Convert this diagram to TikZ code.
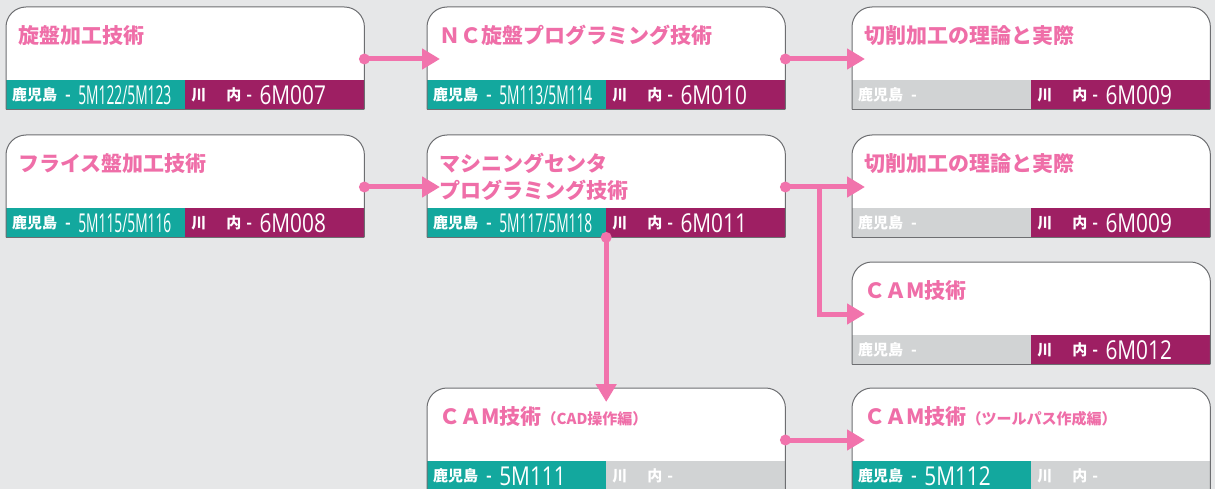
\documentclass[tikz,border=0pt]{standalone}
\usepackage{fontspec}
\setmainfont{Noto Sans CJK JP}
\newfontfamily\codefont{Open Sans}
\usetikzlibrary{arrows.meta}
\definecolor{bggray}{HTML}{E6E7E8}
\definecolor{edgegray}{HTML}{6D6E71}
\definecolor{titlepink}{HTML}{EF6EA8}
\definecolor{linkpink}{HTML}{F173AC}
\definecolor{kteal}{HTML}{13A89E}
\definecolor{smagenta}{HTML}{9E1F63}
\definecolor{nogray}{HTML}{D1D3D4}
\tikzset{
  coursenode/.style={draw=none, inner sep=0pt, minimum width=358pt, minimum height=102pt, anchor=north west},
  boxedge/.style={draw=edgegray, line width=1pt},
  titletext/.style={anchor=north west, inner sep=0pt, text=titlepink, align=left, font=\bfseries\fontsize{21}{27}\selectfont},
  foottext/.style={anchor=base west, inner sep=0pt, text=white, font=\bfseries\fontsize{15}{15}\selectfont},
  codetext/.style={anchor=base west, inner sep=0pt, text=white, font=\codefont\fontsize{26}{26}\selectfont},
  link/.style={draw=linkpink, line width=5pt, -{Triangle[length=18pt,width=20pt]}},
}
\newcommand{\code}[2]{\scalebox{#1}[1]{#2}}
\newcommand{\subttl}[1]{{\fontsize{15}{15}\selectfont #1}}
% name, x, y, title, left colour, left code, right colour, right code
\newcommand{\coursebox}[8]{
  \node[coursenode] (#1) at (#2,#3) {};
  \fill[white,rounded corners=20pt] (#1.south west) rectangle (#1.north east);
  \fill[#5] ([yshift=29pt]#1.south west) rectangle (#1.south);
  \fill[#7] ([yshift=29pt]#1.south) rectangle (#1.south east);
  \draw[boxedge,rounded corners=20pt] (#1.south west) -- (#1.north west) -- (#1.north east) -- (#1.south east);
  \draw[boxedge] (#1.south east) -- (#1.south west);
  \node[titletext] (#1-title) at ([xshift=12pt,yshift=-18pt]#1.north west) {#4};
  \node[foottext] (#1-kl) at ([xshift=6pt,yshift=9pt]#1.south west) {鹿児島\hspace{8pt}-};
  \node[codetext] (#1-kc) at ([xshift=7pt,yshift=-4pt]#1-kl.base east) {#6};
  \node[foottext] (#1-sl) at ([xshift=6pt,yshift=9pt]#1.south) {川\hspace{20pt}内\hspace{5pt}-};
  \node[codetext] (#1-sc) at ([xshift=7pt,yshift=-4pt]#1-sl.base east) {#8};
  \coordinate (#1-out) at ([yshift=-52pt]#1.north east);
  \coordinate (#1-in) at ([xshift=13pt,yshift=-52pt]#1.north west);
  \coordinate (#1-bot) at (#1.south);
  \coordinate (#1-top) at ([yshift=-14pt]#1.north);
}

\begin{document}
\begin{tikzpicture}[x=1pt,y=-1pt]
  \useasboundingbox (0,0) rectangle (1215,489);
  \fill[bggray] (0,0) rectangle (1215,489);

  % row 1
  \coursebox{b1}{6}{7}{旋盤加工技術}{kteal}{\code{0.53}{5M122/5M123}}{smagenta}{\code{0.8}{6M007}}
  \coursebox{b2}{427}{7}{ＮＣ旋盤プログラミング技術}{kteal}{\code{0.53}{5M113/5M114}}{smagenta}{\code{0.8}{6M010}}
  \coursebox{b3}{852}{7}{切削加工の理論と実際}{nogray}{}{smagenta}{\code{0.8}{6M009}}

  % row 2
  \coursebox{b4}{6}{135}{フライス盤加工技術}{kteal}{\code{0.53}{5M115/5M116}}{smagenta}{\code{0.8}{6M008}}
  \coursebox{b5}{427}{135}{マシニングセンタ\\プログラミング技術}{kteal}{\code{0.53}{5M117/5M118}}{smagenta}{\code{0.8}{6M011}}
  \coursebox{b6}{852}{135}{切削加工の理論と実際}{nogray}{}{smagenta}{\code{0.8}{6M009}}

  % row 3
  \coursebox{b7}{852}{262}{ＣＡM技術}{nogray}{}{smagenta}{\code{0.8}{6M012}}

  % row 4
  \coursebox{b8}{427}{388}{ＣＡM技術\subttl{（CAD操作編）}}{kteal}{\code{0.8}{5M111}}{nogray}{}
  \coursebox{b9}{852}{388}{ＣＡM技術\subttl{（ツールパス作成編）}}{kteal}{\code{0.8}{5M112}}{nogray}{}

  % connectors
  \coordinate (split) at ([xshift=34pt]b5-out);
  \draw[link] (b1-out) -- (b2-in);
  \draw[link] (b2-out) -- (b3-in);
  \draw[link] (b4-out) -- (b5-in);
  \draw[link] (b5-out) -- (b6-in);
  \draw[link] (split) |- (b7-in);
  \draw[link] (b5-bot) -- (b8-top);
  \draw[link] (b8-out) -- (b9-in);
  \foreach \n in {b1,b2,b4,b5,b8}
    \fill[linkpink] (\n-out) circle (5.5pt);
  \fill[linkpink] (b5-bot) circle (5.5pt);
\end{tikzpicture}
\end{document}
